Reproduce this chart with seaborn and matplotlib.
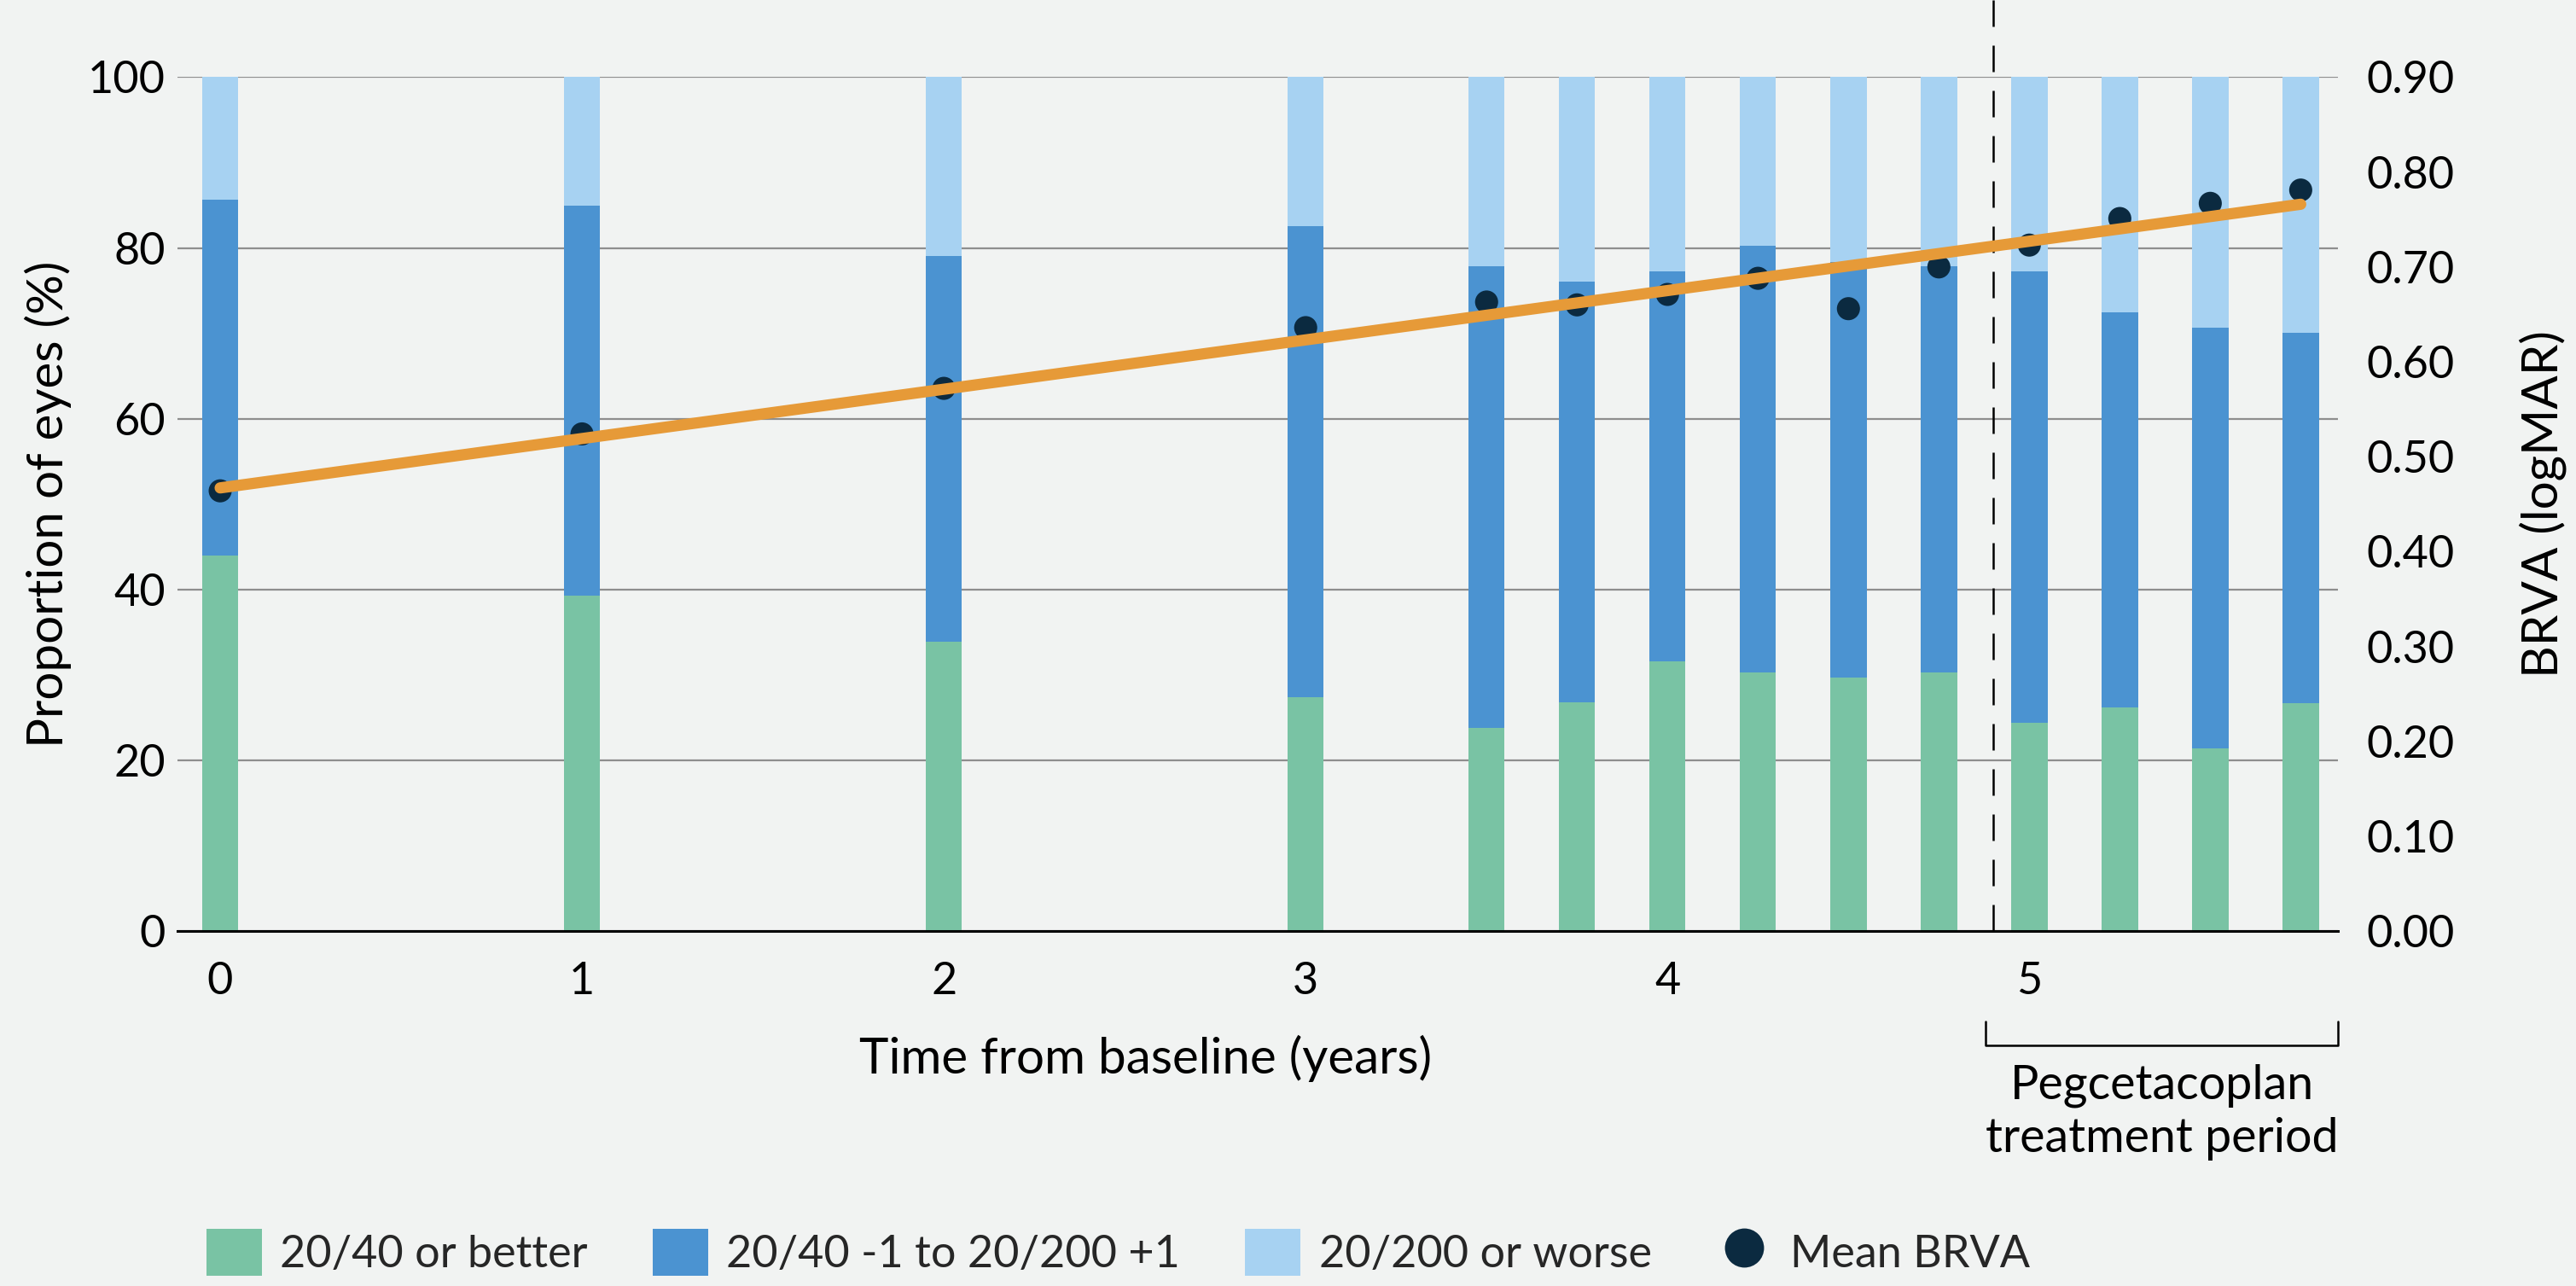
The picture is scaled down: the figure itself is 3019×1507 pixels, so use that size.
import matplotlib
matplotlib.use("Agg")
import matplotlib.pyplot as plt
import matplotlib.transforms as mtransforms
from matplotlib.patches import Patch
from matplotlib.lines import Line2D
import numpy as np
import pandas as pd
import seaborn as sns

# ---------------- data ----------------
years = [0, 1, 2, 3, 3.5, 3.75, 4, 4.25, 4.5, 4.75, 5, 5.25, 5.5, 5.75]
pct_better = [44.0, 39.3, 33.9, 27.4, 23.8, 26.8, 31.6, 30.3, 29.7, 30.3, 24.4, 26.2, 21.4, 26.7]
pct_middle_top = [85.7, 85.0, 79.1, 82.6, 77.9, 76.1, 77.3, 80.3, 78.4, 77.9, 77.3, 72.5, 70.7, 70.1]  # cumulative top of middle band
pct_total = [100] * len(years)
mean_brva = [0.464, 0.524, 0.572, 0.636, 0.663, 0.660, 0.671, 0.688, 0.656, 0.700, 0.723, 0.751, 0.767, 0.781]

y_ticks_left = [0, 20, 40, 60, 80, 100]
y_ticks_right = [0.0, 0.1, 0.2, 0.3, 0.4, 0.5, 0.6, 0.7, 0.8, 0.9]
x_ticks = [0, 1, 2, 3, 4, 5]
legend_labels = ["20/40 or better", "20/40 -1 to 20/200 +1", "20/200 or worse", "Mean BRVA"]
treatment_start = 4.9
bracket_start = 4.88

df = pd.DataFrame({"year": years, "better": pct_better, "middle": pct_middle_top,
                   "total": pct_total, "brva": mean_brva})

# ---------------- style ----------------
BG = "#F1F3F2"
C_GREEN = "#79C3A4"
C_BLUE = "#4B93D1"
C_LIGHT = "#A7D2F2"
C_DOT = "#0B2A40"
C_ORANGE = "#E69A38"
C_GRID = "#8E8E8E"

sns.set_theme(style="white")
plt.rcParams["font.family"] = ["Lato", "DejaVu Sans"]
plt.rcParams["axes.facecolor"] = BG
plt.rcParams["figure.facecolor"] = BG

TICK_FS = 37.5
LABEL_FS = 42
LEG_FS = 37.5
NOTE_FS = 40

fig = plt.figure(figsize=(30.19, 15.07), dpi=100)
ax = fig.add_axes([0.0689, 0.276, 0.8387, 0.664])
ax.set_facecolor(BG)

# gridlines (below bars)
ax.set_axisbelow(True)
ax.yaxis.grid(True, color=C_GRID, linewidth=1.6)
ax.xaxis.grid(False)

# stacked bars (overlaid cumulative)
for col, colr in [("total", C_LIGHT), ("middle", C_BLUE), ("better", C_GREEN)]:
    sns.barplot(data=df, x="year", y=col, native_scale=True, width=0.4,
                color=colr, saturation=1, linewidth=0, ax=ax, zorder=2)

ax.set_xlim(-0.118, 5.853)
ax.set_ylim(0, 100)
ax.set_xticks(x_ticks)
ax.set_xticklabels([str(t) for t in x_ticks])
ax.set_yticks(y_ticks_left)
ax.set_yticklabels([str(t) for t in y_ticks_left])
ax.tick_params(axis="x", direction="out", length=14, width=1.6, color="black",
               labelsize=TICK_FS, pad=12, labelcolor="black")
ax.tick_params(axis="y", length=0, labelsize=TICK_FS, pad=10, labelcolor="black")
for s in ["top", "right", "left"]:
    ax.spines[s].set_visible(False)
ax.spines["bottom"].set_color("black")
ax.spines["bottom"].set_linewidth(2.2)
ax.spines["bottom"].set_zorder(5)

ax.set_xlabel("Time from baseline (years)", fontsize=LABEL_FS, color="black")
ax.xaxis.set_label_coords(0.448, -0.122)
ax.set_ylabel("Proportion of eyes (%)", fontsize=LABEL_FS, color="black")
ax.yaxis.set_label_coords(-0.049, 0.5)

# dashed line marking treatment start
ax.axvline(treatment_start, ymin=0, ymax=1.09, color="black", linewidth=1.8,
           linestyle=(0, (12.4, 8.8)), clip_on=False, zorder=4)

# bracket for treatment period
trans = mtransforms.blended_transform_factory(ax.transData, ax.transAxes)
xr = ax.get_xlim()[1]
ax.plot([bracket_start, bracket_start, xr, xr], [-0.106, -0.134, -0.134, -0.106],
        color="black", linewidth=1.8, transform=trans, clip_on=False)
xc = (bracket_start + xr) / 2
ax.text(xc, -0.196, "Pegcetacoplan", transform=trans, ha="center", va="baseline",
        fontsize=NOTE_FS, color="black")
ax.text(xc, -0.259, "treatment period", transform=trans, ha="center", va="baseline",
        fontsize=NOTE_FS, color="black")

# right axis: mean BRVA
ax2 = ax.twinx()
ax2.set_ylim(0, 0.9)
sns.scatterplot(data=df, x="year", y="brva", color=C_DOT, s=380, edgecolor="none",
                ax=ax2, zorder=3, legend=False)
sns.regplot(data=df, x="year", y="brva", scatter=False, ci=None, ax=ax2,
            line_kws=dict(color=C_ORANGE, linewidth=9.5, solid_capstyle="round", zorder=4))
ax2.set_xlim(ax.get_xlim())
ax2.set_yticks(y_ticks_right)
ax2.set_yticklabels([f"{v:.2f}" for v in y_ticks_right])
ax2.tick_params(axis="y", length=0, labelsize=TICK_FS, pad=24, labelcolor="black")
for s in ["top", "right", "left", "bottom"]:
    ax2.spines[s].set_visible(False)
ax2.grid(False)
ax2.set_xlabel("")
ax2.set_ylabel("BRVA (logMAR)", fontsize=LABEL_FS, color="black", rotation=90)
ax2.yaxis.set_label_coords(1.084, 0.5)

# legend
handles = [Patch(facecolor=C_GREEN, edgecolor="none"),
           Patch(facecolor=C_BLUE, edgecolor="none"),
           Patch(facecolor=C_LIGHT, edgecolor="none"),
           Line2D([0], [0], marker="o", linestyle="none", markersize=33,
                  markerfacecolor=C_DOT, markeredgecolor="none")]
fig.legend(handles, legend_labels, loc="center left", bbox_to_anchor=(0.080, 0.0265),
           ncol=4, frameon=False, fontsize=LEG_FS, handlelength=1.25, handleheight=1.25,
           handletextpad=0.42, columnspacing=1.45, borderaxespad=0, borderpad=0)

fig.savefig("out.png", dpi=100, facecolor=BG)
